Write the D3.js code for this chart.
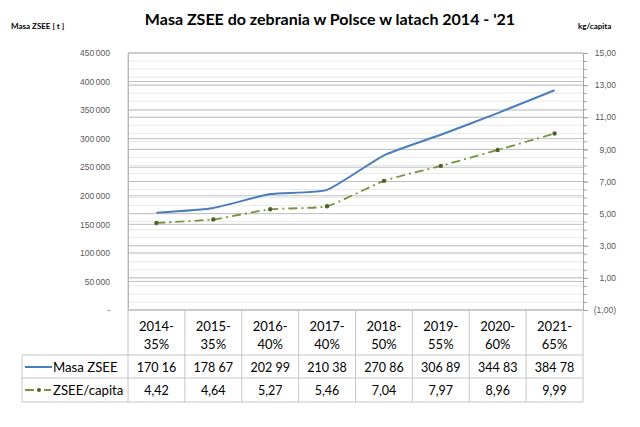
<!DOCTYPE html>
<html lang="pl">
<head>
<meta charset="UTF-8" />
<title>Masa ZSEE do zebrania w Polsce</title>
<script src="https://d3js.org/d3.v7.min.js"></script>
<style>
    body { margin: 0; background: #fff; }
    svg { display: block; font-family: Lato, "Open Sans", sans-serif; }
    .tick line { stroke: #a6a6a6; }
    .domain { stroke: #a6a6a6; }
    .tick text { fill: #595959; font-size: 8.5px; }
</style>
</head>
<body>
<div id="chart"></div>
<script>
    // Data
    const years = ["2014", "2015", "2016", "2017", "2018", "2019", "2020", "2021"];
    const targets = ["35%", "35%", "40%", "40%", "50%", "55%", "60%", "65%"];
    const masa = [170160, 178670, 202990, 210380, 270860, 306890, 344830, 384780];
    const masaLabels = ["170 16", "178 67", "202 99", "210 38", "270 86", "306 89", "344 83", "384 78"];
    const perCapita = [4.42, 4.64, 5.27, 5.46, 7.04, 7.97, 8.96, 9.99];
    const leftTicks = [0, 50000, 100000, 150000, 200000, 250000, 300000, 350000, 400000, 450000];
    const rightTicks = [-1, 1, 3, 5, 7, 9, 11, 13, 15];

    const width = 640, height = 427;
    const plot = { left: 128, right: 583, top: 53, bottom: 310 };
    const rows = { head: 355, r1: 378, r2: 402, legendLeft: 22 };

    const blue = "#4a7ebb", olive = "#77933c", oliveDark = "#4f6228";
    const gridMajor = "#bfbfbf", gridMinor = "#e8e8e8", border = "#c6c6c6";

    const svg = d3.select("#chart").append("svg")
        .attr("width", width).attr("height", height);

    const x = d3.scaleBand().domain(years).range([plot.left, plot.right]);
    const yL = d3.scaleLinear().domain([0, 450000]).range([plot.bottom, plot.top]);
    const yR = d3.scaleLinear().domain([-1, 15]).range([plot.bottom, plot.top]);
    const cx = d => x(d) + x.bandwidth() / 2;

    // minor gridlines (right axis, every 0.5)
    svg.append("g").selectAll("line")
        .data(d3.range(-1, 15.01, 0.5))
        .join("line")
        .attr("x1", plot.left).attr("x2", plot.right)
        .attr("y1", d => yR(d)).attr("y2", d => yR(d))
        .attr("stroke", gridMinor).attr("stroke-width", 1);

    // major gridlines for both axes
    svg.append("g").selectAll("line")
        .data(rightTicks)
        .join("line")
        .attr("x1", plot.left).attr("x2", plot.right)
        .attr("y1", d => yR(d)).attr("y2", d => yR(d))
        .attr("stroke", gridMajor).attr("stroke-width", 1);
    svg.append("g").selectAll("line")
        .data(leftTicks)
        .join("line")
        .attr("x1", plot.left).attr("x2", plot.right)
        .attr("y1", d => yL(d)).attr("y2", d => yL(d))
        .attr("stroke", gridMajor).attr("stroke-width", 1);

    // left axis
    const fmtThousands = d3.formatLocale({ decimal: ",", thousands: "\u2009", grouping: [3], currency: ["", ""] }).format(",");
    svg.append("g")
        .attr("transform", `translate(${plot.left},0)`)
        .call(d3.axisLeft(yL).tickValues(leftTicks).tickSize(0).tickPadding(18)
            .tickFormat(d => d === 0 ? "-" : fmtThousands(d)))
        .call(g => g.select(".domain").attr("stroke", border));

    // right axis with minor ticks
    svg.append("g")
        .attr("transform", `translate(${plot.right},0)`)
        .call(d3.axisRight(yR).tickValues(d3.range(-1, 15.01, 0.5)).tickSize(4).tickFormat(""))
        .call(g => g.select(".domain").attr("stroke", border));
    svg.append("g")
        .attr("transform", `translate(${plot.right},0)`)
        .call(d3.axisRight(yR).tickValues(rightTicks).tickSize(5)
            .tickFormat(d => d < 0 ? "(" + Math.abs(d).toFixed(2).replace(".", ",") + ")" : d.toFixed(2).replace(".", ",")))
        .call(g => g.select(".domain").remove())
        .call(g => g.selectAll("text").attr("text-anchor", "end").attr("x", 33));

    // lines (lightly smoothed, like the original)
    const curve = d3.curveCardinal.tension(0.5);
    const masaLine = d3.line().x((d, i) => cx(years[i])).y(d => yL(d)).curve(curve);
    const capLine = d3.line().x((d, i) => cx(years[i])).y(d => yR(d)).curve(curve);

    svg.append("path").datum(masa)
        .attr("d", masaLine).attr("fill", "none")
        .attr("stroke", blue).attr("stroke-width", 2);

    svg.append("path").datum(perCapita)
        .attr("d", capLine).attr("fill", "none")
        .attr("stroke", olive).attr("stroke-width", 1.8)
        .attr("stroke-dasharray", "9,4,2,4");

    svg.append("g").selectAll("circle")
        .data(perCapita)
        .join("circle")
        .attr("cx", (d, i) => cx(years[i])).attr("cy", d => yR(d))
        .attr("r", 2.2).attr("fill", oliveDark);

    // data table
    const table = svg.append("g").attr("stroke", border).attr("stroke-width", 1);
    table.append("line").attr("x1", plot.left).attr("x2", plot.right).attr("y1", plot.bottom).attr("y2", plot.bottom);
    [rows.head, rows.r1, rows.r2].forEach(y =>
        table.append("line").attr("x1", rows.legendLeft).attr("x2", plot.right).attr("y1", y).attr("y2", y));
    table.append("line").attr("x1", plot.left).attr("x2", plot.left).attr("y1", plot.top).attr("y2", rows.r2);
    table.append("line").attr("x1", rows.legendLeft).attr("x2", rows.legendLeft).attr("y1", rows.head).attr("y2", rows.r2);
    table.selectAll(".col")
        .data(years.slice(1).concat(["end"]))
        .join("line")
        .attr("x1", d => d === "end" ? plot.right : x(d))
        .attr("x2", d => d === "end" ? plot.right : x(d))
        .attr("y1", plot.bottom).attr("y2", rows.r2);

    const cellText = svg.append("g")
        .attr("font-size", 13).attr("fill", "#000").attr("text-anchor", "middle");
    years.forEach((yr, i) => {
        cellText.append("text").attr("x", cx(yr)).attr("y", 331).text(yr + "-");
        cellText.append("text").attr("x", cx(yr)).attr("y", 349).text(targets[i]);
        cellText.append("text").attr("x", cx(yr)).attr("y", 371.5).attr("font-size", 12.5).text(masaLabels[i]);
        cellText.append("text").attr("x", cx(yr)).attr("y", 394.5).attr("font-size", 12.5)
            .text(d3.format(".2f")(perCapita[i]).replace(".", ","));
    });

    // legend keys inside the table
    svg.append("line").attr("x1", 25).attr("x2", 52).attr("y1", 367).attr("y2", 367)
        .attr("stroke", blue).attr("stroke-width", 2);
    svg.append("line").attr("x1", 25).attr("x2", 51).attr("y1", 390).attr("y2", 390)
        .attr("stroke", olive).attr("stroke-width", 1.8).attr("stroke-dasharray", "9,4,2,4");
    svg.append("circle").attr("cx", 39).attr("cy", 390).attr("r", 2).attr("fill", oliveDark);
    svg.append("text").attr("x", 53).attr("y", 372).attr("font-size", 13.2).text("Masa ZSEE");
    svg.append("text").attr("x", 53).attr("y", 395).attr("font-size", 13.2).text("ZSEE/capita");

    // titles
    svg.append("text").attr("x", 330).attr("y", 25).attr("text-anchor", "middle")
        .attr("font-size", 16).attr("font-weight", "bold").attr("fill", "#000")
        .text("Masa ZSEE do zebrania w Polsce w latach 2014 - '21");
    svg.append("text").attr("x", 11).attr("y", 29).attr("font-size", 8).attr("font-weight", "bold")
        .text("Masa  ZSEE [ t ]");
    svg.append("text").attr("x", 578).attr("y", 29).attr("font-size", 8).attr("font-weight", "bold")
        .text("kg/capita");
</script>
</body>
</html>
